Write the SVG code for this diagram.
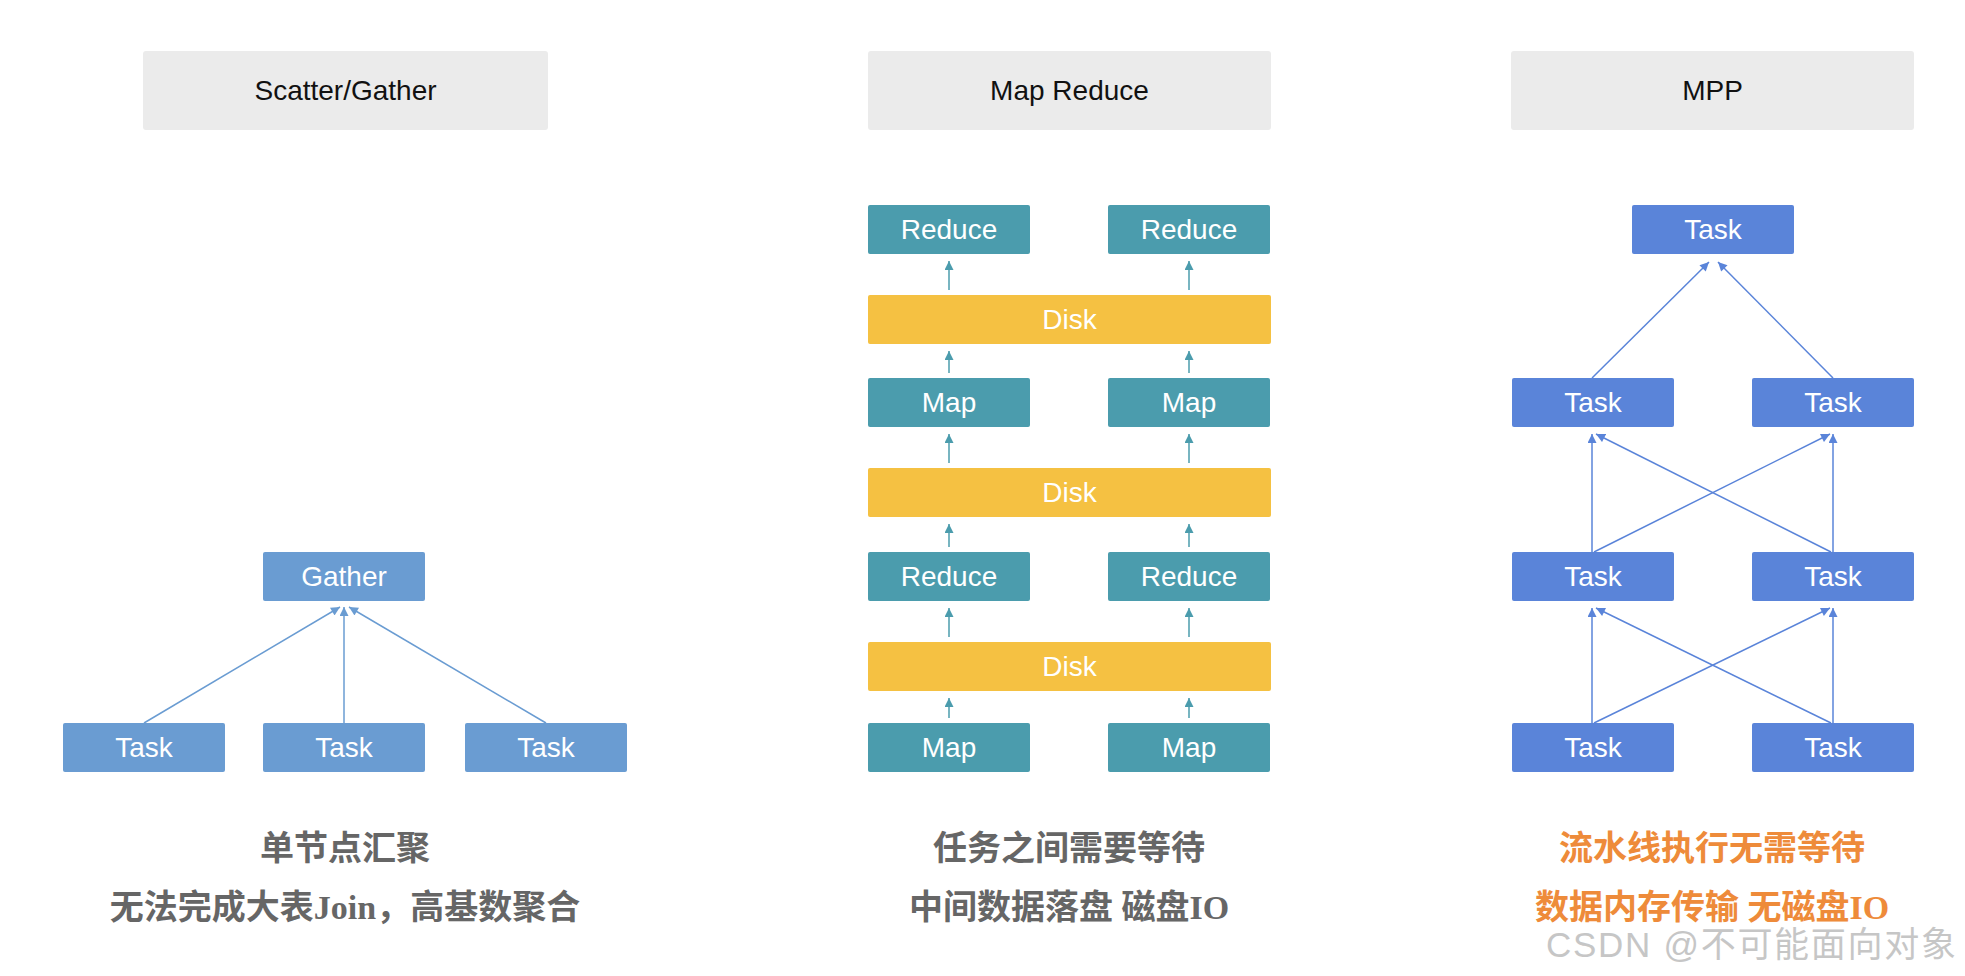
<svg xmlns="http://www.w3.org/2000/svg" width="1965" height="976" viewBox="0 0 1965 976">
<defs>
<style>
.hdr{fill:#EBEBEB}
.hdrt{font-family:"Liberation Sans",Arial,sans-serif;font-size:28px;fill:#111;text-anchor:middle}
.nt{font-family:"Liberation Sans",Arial,sans-serif;font-size:28px;fill:#fff;text-anchor:middle}
.sg{fill:#6A9CD2}
.mr{fill:#4B9CAD}
.dk{fill:#F5C142}
.mpp{fill:#5A84D9}
.cap{font-family:"Liberation Serif","Noto Sans CJK SC",serif;font-size:34px;font-weight:bold;text-anchor:middle}
.grey{fill:#666}
.orange{fill:#EE8B3A}
.l-sg{stroke:#6A9CD2;stroke-width:1.5;fill:none;marker-end:url(#a-sg)}
.l-mr{stroke:#4B9CAD;stroke-width:1.5;fill:none;marker-end:url(#a-mr)}
.l-mpp{stroke:#5A84D9;stroke-width:1.5;fill:none;marker-end:url(#a-mpp)}
.wm{font-family:"Liberation Sans","Noto Sans CJK SC",sans-serif;font-size:35px;fill:#c6c6c6}
</style>
<marker id="a-sg" viewBox="0 0 10 10" refX="10" refY="5" markerWidth="10" markerHeight="9" markerUnits="userSpaceOnUse" orient="auto"><path d="M0,0 L10,5 L0,10 z" fill="#6A9CD2"/></marker>
<marker id="a-mr" viewBox="0 0 10 10" refX="10" refY="5" markerWidth="10" markerHeight="9" markerUnits="userSpaceOnUse" orient="auto"><path d="M0,0 L10,5 L0,10 z" fill="#4B9CAD"/></marker>
<marker id="a-mpp" viewBox="0 0 10 10" refX="10" refY="5" markerWidth="10" markerHeight="9" markerUnits="userSpaceOnUse" orient="auto"><path d="M0,0 L10,5 L0,10 z" fill="#5A84D9"/></marker>
</defs>
<rect width="1965" height="976" fill="#fff"/>

<!-- headers -->
<g id="hdr-sg"><rect class="hdr" x="143" y="51" width="405" height="79" rx="3"/><text class="hdrt" x="345.5" y="100">Scatter/Gather</text></g>
<g id="hdr-mr"><rect class="hdr" x="868" y="51" width="403" height="79" rx="3"/><text class="hdrt" x="1069.5" y="100">Map Reduce</text></g>
<g id="hdr-mpp"><rect class="hdr" x="1511" y="51" width="403" height="79" rx="3"/><text class="hdrt" x="1712.5" y="100">MPP</text></g>

<!-- connectors -->
<g id="connectors">
<line class="l-sg" x1="144" y1="723" x2="340" y2="607"/>
<line class="l-sg" x1="344" y1="723" x2="344" y2="607"/>
<line class="l-sg" x1="546" y1="723" x2="349" y2="607"/>

<line class="l-mr" x1="949" y1="718" x2="949" y2="698"/>
<line class="l-mr" x1="1189" y1="718" x2="1189" y2="698"/>
<line class="l-mr" x1="949" y1="637" x2="949" y2="608"/>
<line class="l-mr" x1="1189" y1="637" x2="1189" y2="608"/>
<line class="l-mr" x1="949" y1="547" x2="949" y2="524"/>
<line class="l-mr" x1="1189" y1="547" x2="1189" y2="524"/>
<line class="l-mr" x1="949" y1="463" x2="949" y2="434"/>
<line class="l-mr" x1="1189" y1="463" x2="1189" y2="434"/>
<line class="l-mr" x1="949" y1="373" x2="949" y2="351"/>
<line class="l-mr" x1="1189" y1="373" x2="1189" y2="351"/>
<line class="l-mr" x1="949" y1="290" x2="949" y2="261"/>
<line class="l-mr" x1="1189" y1="290" x2="1189" y2="261"/>

<line class="l-mpp" x1="1592" y1="378" x2="1709" y2="262"/>
<line class="l-mpp" x1="1833" y1="378" x2="1718" y2="262"/>
<line class="l-mpp" x1="1592" y1="552" x2="1592" y2="434"/>
<line class="l-mpp" x1="1594" y1="552" x2="1830" y2="434"/>
<line class="l-mpp" x1="1833" y1="552" x2="1833" y2="434"/>
<line class="l-mpp" x1="1831" y1="552" x2="1596" y2="434"/>
<line class="l-mpp" x1="1592" y1="723" x2="1592" y2="608"/>
<line class="l-mpp" x1="1594" y1="723" x2="1830" y2="608"/>
<line class="l-mpp" x1="1833" y1="723" x2="1833" y2="608"/>
<line class="l-mpp" x1="1831" y1="723" x2="1596" y2="608"/>
</g>

<!-- Scatter/Gather nodes -->
<g id="sg-gather"><rect class="sg" x="263" y="552" width="162" height="49" rx="2"/><text class="nt" x="344" y="586">Gather</text></g>
<g id="sg-task1"><rect class="sg" x="63" y="723" width="162" height="49" rx="2"/><text class="nt" x="144" y="757">Task</text></g>
<g id="sg-task2"><rect class="sg" x="263" y="723" width="162" height="49" rx="2"/><text class="nt" x="344" y="757">Task</text></g>
<g id="sg-task3"><rect class="sg" x="465" y="723" width="162" height="49" rx="2"/><text class="nt" x="546" y="757">Task</text></g>

<!-- Map Reduce nodes -->
<g id="mr-r1l"><rect class="mr" x="868" y="205" width="162" height="49" rx="2"/><text class="nt" x="949" y="239">Reduce</text></g>
<g id="mr-r1r"><rect class="mr" x="1108" y="205" width="162" height="49" rx="2"/><text class="nt" x="1189" y="239">Reduce</text></g>
<g id="mr-d1"><rect class="dk" x="868" y="295" width="403" height="49" rx="2"/><text class="nt" x="1069.5" y="329">Disk</text></g>
<g id="mr-m1l"><rect class="mr" x="868" y="378" width="162" height="49" rx="2"/><text class="nt" x="949" y="412">Map</text></g>
<g id="mr-m1r"><rect class="mr" x="1108" y="378" width="162" height="49" rx="2"/><text class="nt" x="1189" y="412">Map</text></g>
<g id="mr-d2"><rect class="dk" x="868" y="468" width="403" height="49" rx="2"/><text class="nt" x="1069.5" y="502">Disk</text></g>
<g id="mr-r2l"><rect class="mr" x="868" y="552" width="162" height="49" rx="2"/><text class="nt" x="949" y="586">Reduce</text></g>
<g id="mr-r2r"><rect class="mr" x="1108" y="552" width="162" height="49" rx="2"/><text class="nt" x="1189" y="586">Reduce</text></g>
<g id="mr-d3"><rect class="dk" x="868" y="642" width="403" height="49" rx="2"/><text class="nt" x="1069.5" y="676">Disk</text></g>
<g id="mr-m2l"><rect class="mr" x="868" y="723" width="162" height="49" rx="2"/><text class="nt" x="949" y="757">Map</text></g>
<g id="mr-m2r"><rect class="mr" x="1108" y="723" width="162" height="49" rx="2"/><text class="nt" x="1189" y="757">Map</text></g>

<!-- MPP nodes -->
<g id="mpp-top"><rect class="mpp" x="1632" y="205" width="162" height="49" rx="2"/><text class="nt" x="1713" y="239">Task</text></g>
<g id="mpp-2l"><rect class="mpp" x="1512" y="378" width="162" height="49" rx="2"/><text class="nt" x="1593" y="412">Task</text></g>
<g id="mpp-2r"><rect class="mpp" x="1752" y="378" width="162" height="49" rx="2"/><text class="nt" x="1833" y="412">Task</text></g>
<g id="mpp-3l"><rect class="mpp" x="1512" y="552" width="162" height="49" rx="2"/><text class="nt" x="1593" y="586">Task</text></g>
<g id="mpp-3r"><rect class="mpp" x="1752" y="552" width="162" height="49" rx="2"/><text class="nt" x="1833" y="586">Task</text></g>
<g id="mpp-4l"><rect class="mpp" x="1512" y="723" width="162" height="49" rx="2"/><text class="nt" x="1593" y="757">Task</text></g>
<g id="mpp-4r"><rect class="mpp" x="1752" y="723" width="162" height="49" rx="2"/><text class="nt" x="1833" y="757">Task</text></g>

<!-- captions -->
<g id="cap-sg">
<text class="cap grey" x="345" y="860">单节点汇聚</text>
<text class="cap grey" x="345" y="919">无法完成大表Join，高基数聚合</text>
</g>
<g id="cap-mr">
<text class="cap grey" x="1069" y="860">任务之间需要等待</text>
<text class="cap grey" x="1069" y="919">中间数据落盘 磁盘IO</text>
</g>
<g id="cap-mpp">
<text class="cap orange" x="1712" y="860">流水线执行无需等待</text>
<text class="cap orange" x="1712" y="919">数据内存传输 无磁盘IO</text>
</g>

<text class="wm" x="1546" y="957" textLength="410" lengthAdjust="spacing">CSDN @不可能面向对象</text>
</svg>
